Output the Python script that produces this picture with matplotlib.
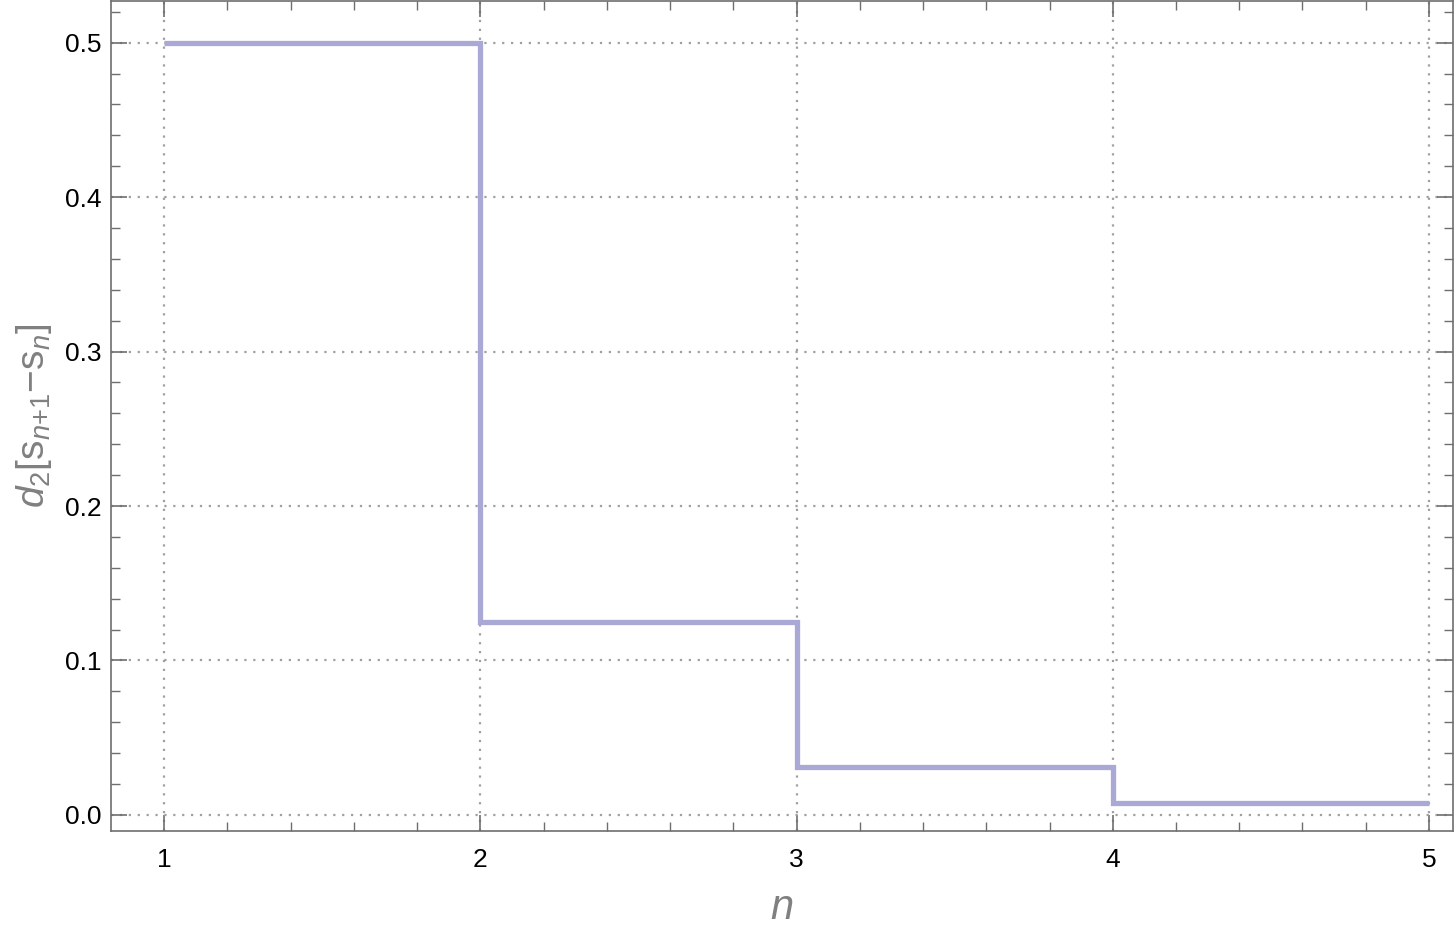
import matplotlib.pyplot as plt
from matplotlib.ticker import MultipleLocator

# step values d2[s_{n+1} - s_n] on [n, n+1)
n_edges = [1, 2, 3, 4, 5]
d2_vals = [0.5, 0.125, 0.03125, 0.0078125]

plt.rcParams['font.family'] = ['Liberation Sans', 'DejaVu Sans']
plt.rcParams['mathtext.fontset'] = 'custom'
plt.rcParams['mathtext.rm'] = 'Liberation Sans'
plt.rcParams['mathtext.it'] = 'Liberation Sans:italic'

fig = plt.figure(figsize=(14.56, 9.38), dpi=100)
ax = fig.add_axes([111/1456, 107/938, 1342/1456, 830/938])

frame_col = '#6e6e6e'
grid_col = '#a0a0a0'

ax.stairs(d2_vals, n_edges, color='#aaa9d5', linewidth=3.8, baseline=None)

ax.set_xlim(0.832, 5.076)
ax.set_ylim(-0.0104, 0.527)

ax.xaxis.set_major_locator(MultipleLocator(1))
ax.xaxis.set_minor_locator(MultipleLocator(0.2))
ax.yaxis.set_major_locator(MultipleLocator(0.1))
ax.yaxis.set_minor_locator(MultipleLocator(0.02))
ax.yaxis.set_major_formatter(plt.FuncFormatter(lambda v, p: f'{v:.1f}'))

ax.grid(True, which='major', linestyle=(0, (1, 3)), color=grid_col, linewidth=1.6)
ax.set_axisbelow(True)

ax.tick_params(which='both', direction='in', top=True, right=True, colors=frame_col,
               labelcolor='black', labelsize=19)
ax.tick_params(which='major', length=11.5, width=1.2)
ax.tick_params(which='minor', length=6.5, width=1.0)
ax.tick_params(axis='x', which='major', pad=12)
ax.tick_params(axis='y', which='major', pad=7)

for sp in ax.spines.values():
    sp.set_color(frame_col)
    sp.set_linewidth(1.2)

ax.set_xlabel(r'$n$', fontsize=30, color='#808080', labelpad=12)
ax.set_ylabel(r'$d_2$[s$_{n{+}1}$−s$_n$]', fontsize=28, color='#808080', labelpad=8)

fig.savefig('out.png', dpi=100)
